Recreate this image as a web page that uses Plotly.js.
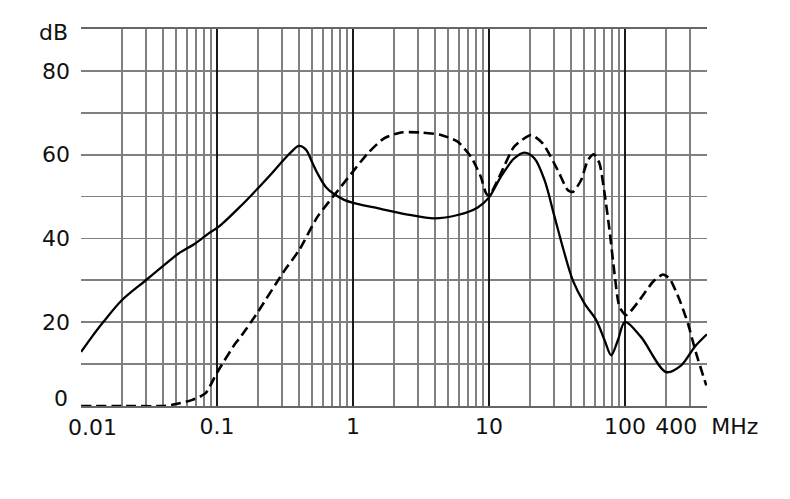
<!DOCTYPE html>
<html>
<head>
<meta charset="utf-8">
<script src="https://cdn.plot.ly/plotly-3.0.1.min.js"></script>
<style>html,body{margin:0;padding:0;background:#fff;}#chart{width:790px;height:499px;}</style>
</head>
<body>
<div id="chart"></div>
<script>
// Frequency (MHz) and attenuation (dB)
const solidFreq = [0.01, 0.012, 0.0146, 0.02, 0.0296, 0.0393, 0.0521, 0.0692, 0.0867, 0.103, 0.15, 0.2, 0.25, 0.3, 0.35, 0.4, 0.45, 0.5, 0.548, 0.63, 0.726, 0.86, 1.0, 1.43, 2.52, 3.95, 5.88, 8.26, 10, 12.2, 15.3, 18.2, 21.6, 25.6, 30.3, 35.9, 41.3, 50.3, 61.4, 70.7, 79.1, 88.6, 100, 131, 201, 259, 325, 400];
const solidDb   = [12.9, 16.5, 20.1, 25.3, 29.9, 33.2, 36.4, 38.8, 41.2, 42.8, 47.8, 52, 55.4, 58.3, 60.6, 62.1, 61.2, 58.2, 55.5, 52.3, 50.6, 49.2, 48.5, 47.4, 45.7, 44.8, 45.6, 47.4, 49.8, 54.7, 59.1, 60.5, 59.1, 53.9, 45.2, 36.4, 30.0, 24.5, 20.5, 15.7, 12.1, 15.7, 20.1, 16.5, 8.1, 9.7, 14.1, 17.1];

const dashFreq = [0.01, 0.02, 0.04, 0.049, 0.065, 0.082, 0.1, 0.136, 0.149, 0.198, 0.311, 0.401, 0.548, 0.726, 1.0, 1.28, 1.69, 2.25, 3.16, 4.43, 5.88, 7.36, 8.7, 9.5, 10, 12.2, 15.3, 20.4, 24.8, 32, 38, 41.3, 47.5, 53.3, 59, 64.9, 70.7, 76.9, 83.7, 91, 102, 128, 160, 190, 213, 252, 290, 334, 396];
const dashDb   = [0, 0, 0, 0.4, 1.4, 3.0, 8, 14.9, 16.5, 22.3, 32.2, 37.2, 45.2, 50.3, 56, 60.3, 63.9, 65.3, 65.3, 64.7, 63.1, 59.5, 54.7, 50.8, 50.2, 55.5, 61.9, 64.7, 62.7, 56.3, 51.5, 51.1, 53.9, 58.7, 60.1, 57.9, 50.8, 42, 31.6, 23.7, 21.7, 25.3, 29.6, 31.4, 30.4, 25.3, 19.7, 12.5, 4.9];

// Axis ticks
const xMinorTicks = [0.01,0.02,0.03,0.04,0.05,0.06,0.07,0.08,0.09,0.1,0.2,0.3,0.4,0.5,0.6,0.7,0.8,0.9,1,2,3,4,5,6,7,8,9,10,20,30,40,50,60,70,80,90,100,200,300,400];
const xLabelMap = {0.1:'0.1', 1:'1', 10:'10', 100:'100', 400:'400\u00A0\u00A0MHz'};
const xFirstLabel = '0.01';
const xDecades = [0.01, 0.1, 1, 10, 100];
const yTicks = [0,10,20,30,40,50,60,70,80,90];
const yLabels = ['','','20','','40','','60','','80',''];
const yZeroLabel = '0';
const yUnitLabel = 'dB';

const xText = xMinorTicks.map(v => xLabelMap[v] !== undefined ? xLabelMap[v] : '');

const font = {family: 'DejaVu Sans, Arial, sans-serif', size: 22, color: '#111'};

const traces = [
  {x: solidFreq, y: solidDb, type: 'scatter', mode: 'lines', xaxis: 'x', yaxis: 'y',
   line: {color: '#000', width: 2.3, shape: 'spline', smoothing: 0.9}, hoverinfo: 'skip'},
  {x: dashFreq, y: dashDb, type: 'scatter', mode: 'lines', xaxis: 'x', yaxis: 'y',
   line: {color: '#000', width: 2.6, dash: '10px,5px', shape: 'spline', smoothing: 0.6}, hoverinfo: 'skip'},
  {x: [0.5], y: [null], xaxis: 'x2', yaxis: 'y', type: 'scatter', mode: 'lines', showlegend: false, hoverinfo: 'skip'}
];

const xr = [Math.log10(0.01) - 0.0008, Math.log10(400) + 0.0008];

const layout = {
  width: 790, height: 499,
  margin: {l: 81, r: 83, t: 29, b: 93},
  paper_bgcolor: '#fff', plot_bgcolor: '#fff',
  showlegend: false,
  font: font,
  xaxis: {
    type: 'log', range: xr,
    tickmode: 'array', tickvals: xMinorTicks, ticktext: xText,
    showgrid: true, gridcolor: '#808080', gridwidth: 1.6,
    ticks: '', ticklabelstandoff: 0,
    showline: true, linecolor: '#666', linewidth: 2, mirror: true,
    zeroline: false, tickfont: font
  },
  xaxis2: {
    type: 'log', range: xr, overlaying: 'x', anchor: 'y',
    tickmode: 'array', tickvals: xDecades, showticklabels: false,
    showgrid: true, gridcolor: '#1a1a1a', gridwidth: 2.4,
    ticks: '', showline: false, zeroline: false
  },
  yaxis: {
    range: [0, 90],
    tickmode: 'array', tickvals: yTicks, ticktext: yLabels,
    showgrid: true, gridcolor: '#808080', gridwidth: 1.8,
    ticks: '', ticklabelstandoff: 10,
    showline: false, zeroline: false, tickfont: font
  },
  annotations: [
    {xref: 'paper', yref: 'y', x: 0, y: 0, text: yZeroLabel, showarrow: false,
     xanchor: 'right', yanchor: 'middle', xshift: -11, yshift: 8, font: font},
    {xref: 'paper', yref: 'y', x: 0, y: 90, text: yUnitLabel, showarrow: false,
     xanchor: 'right', yanchor: 'middle', xshift: -11, yshift: -3, font: font},
    {xref: 'x', yref: 'paper', x: Math.log10(xDecades[0]), y: 0, text: xFirstLabel, showarrow: false,
     xanchor: 'center', yanchor: 'top', xshift: 11, yshift: -7, font: font}
  ]
};

Plotly.newPlot('chart', traces, layout, {staticPlot: true, displayModeBar: false});
</script>
</body>
</html>
